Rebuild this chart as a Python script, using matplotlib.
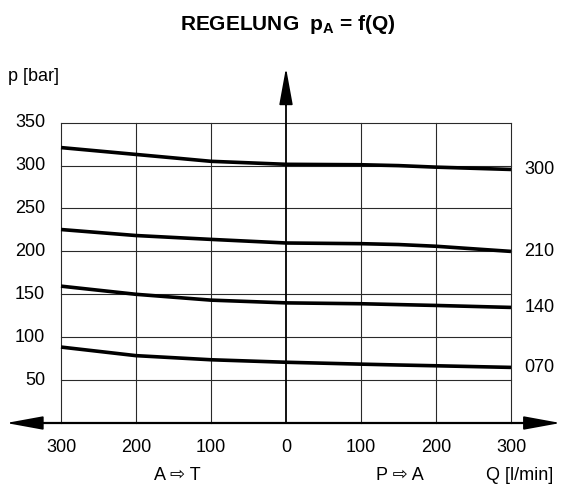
import numpy as np
import matplotlib
matplotlib.use("Agg")
import matplotlib.pyplot as plt

plt.rcParams['font.family'] = ['Liberation Sans', 'DejaVu Sans']
plt.rcParams['mathtext.fontset'] = 'custom'
plt.rcParams['mathtext.rm'] = 'Liberation Sans'
plt.rcParams['mathtext.bf'] = 'Liberation Sans:bold'

# flow Q [l/min], negative = A->T, positive = P->A
q = [-300, -200, -100, 0, 100, 150, 200, 300]
p_300 = [321, 313, 305, 301.5, 301, 300, 298.2, 295.5]
p_210 = [225.5, 218.5, 214, 209.8, 209, 208, 206, 200]
p_140 = [159.5, 150, 143.2, 140, 139, 138, 137, 134.7]
p_070 = [88.5, 78.5, 73.7, 70.8, 68.6, 67.6, 66.7, 64.8]
curves = [p_300, p_210, p_140, p_070]
curve_labels = ['300', '210', '140', '070']

x_ticks = [-300, -200, -100, 0, 100, 200, 300]
x_ticklabels = ['300', '200', '100', '0', '100', '200', '300']
y_ticks = [50, 100, 150, 200, 250, 300, 350]

fig = plt.figure(figsize=(5.63, 4.86), dpi=100)
ax = fig.add_axes([0, 0, 1, 1])
ax.axis('off')
# pixel mapping: Q=0 at x=286, 0.75 px per l/min; p=0 at y=423, 0.858 px per bar
ax.set_xlim((0 - 286) / 0.75, (563 - 286) / 0.75)
ax.set_ylim((423 - 486) / 0.858, 423 / 0.858)

grid_col = '#2a2a2a'
for x in x_ticks:
    if x != 0:
        ax.plot([x, x], [0, 350], color=grid_col, lw=0.8, zorder=1)
for y in y_ticks:
    ax.plot([-300, 300], [y, y], color=grid_col, lw=0.8, zorder=1)

# axes with arrows
ax.plot([-340, 335], [0, 0], color='black', lw=1.6, zorder=3)
ax.plot([0, 0], [0, 380], color='black', lw=1.3, zorder=3)
arrow = dict(arrowstyle='-|>,head_length=2.3,head_width=0.42', mutation_scale=10,
             color='black', lw=1.2, shrinkA=0, shrinkB=0)
ax.annotate('', xy=(0, 414), xytext=(0, 370), arrowprops=arrow, zorder=4)
ax.annotate('', xy=(-373, 0), xytext=(-320, 0), arrowprops=arrow, zorder=4)
ax.annotate('', xy=(366, 0), xytext=(310, 0), arrowprops=arrow, zorder=4)

for vals, lab in zip(curves, curve_labels):
    ax.plot(q, vals, color='black', lw=2.6, solid_capstyle='butt', zorder=5)
    ax.text(318, vals[-1], lab, fontsize=13, ha='left', va='center')

for y in y_ticks:
    ax.text(-321, y, str(y), fontsize=13, ha='right', va='center')
for x, lab in zip(x_ticks, x_ticklabels):
    ax.text(x, -29, lab, fontsize=13, ha='center', va='center')

ax.text(-370, 404, 'p [bar]', fontsize=13, ha='left', va='center')
ax.text(-145, -61, 'A \u21e8 T', fontsize=13, ha='center', va='center')
ax.text(152, -61, 'P \u21e8 A', fontsize=13, ha='center', va='center')
ax.text(356, -61, 'Q [l/min]', fontsize=13, ha='right', va='center')

fig.text(288 / 563, 1 - 24 / 486, r'REGELUNG  $\mathbf{p_{A}}$ = f(Q)',
         fontsize=15, fontweight='bold', ha='center', va='center')

fig.savefig('out.png', dpi=100)
